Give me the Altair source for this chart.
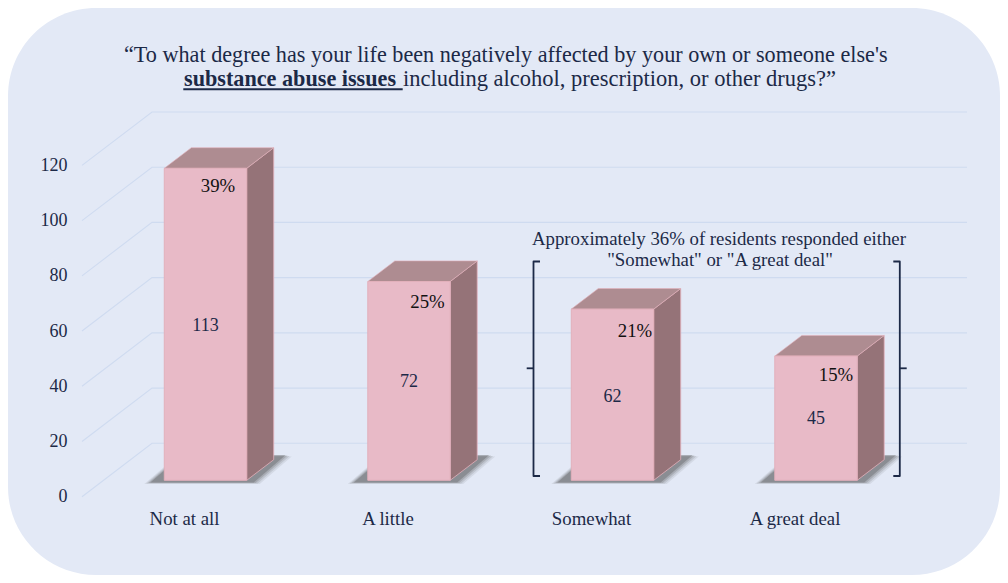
import altair as alt
import pandas as pd

categories = ["Not at all", "A little", "Somewhat", "A great deal"]
counts = [113, 72, 62, 45]
percents = ["39%", "25%", "21%", "15%"]
y_ticks = [0, 20, 40, 60, 80, 100, 120]

FONT = "Liberation Serif"
NAVY = "#1c2947"
GRID = "#cfdbf0"
PANEL = "#e3e9f6"
FRONT = "#e8bac7"
EDGE = "#e2b0bb"
TOP = "#ae8c91"
SIDE = "#957378"

# scale geometry (page pixels -> data units)
PX_X = 203.5          # px per category
PX_Y = 2.761          # px per count
X0, Y0 = 184.0, 496.7 # page position of category 0, count 0 on the front plane
DX, DY = 70.0, 53.4   # depth vector of the floor
D1, D2 = 0.307, 0.693 # bar depth range
HALF = 41.2 / PX_X    # half a bar width

x_scale = alt.Scale(domain=[(8 - X0) / PX_X, (1000 - X0) / PX_X], nice=False, zero=False)
y_scale = alt.Scale(domain=[(Y0 - 575) / PX_Y, (Y0 - 8) / PX_Y], nice=False, zero=False)


def px(i, d):
    return i + d * DX / PX_X


def py(v, d):
    return v + d * DY / PX_Y


label_expr = "[" + ",".join(f"'{c}'" for c in categories) + "][datum.value]"
x_axis = alt.Axis(
    values=[0, 1, 2, 3], labelExpr=label_expr, domain=False, ticks=False, grid=False, title=None,
    orient="bottom", offset=-57, labelPadding=0, labelFont=FONT, labelFontSize=18.8,
    labelColor=NAVY, labelBaseline="middle", labelAlign="center", labelFlush=False, labelOverlap=False)
y_axis = alt.Axis(
    values=y_ticks, domain=False, ticks=False, grid=False, title=None, orient="left", offset=-59,
    labelPadding=0, labelFont=FONT, labelFontSize=18, labelColor=NAVY, labelAlign="right",
    labelBaseline="middle", labelFlush=False, labelOverlap=False)

X = lambda f="x": alt.X(f"{f}:Q", scale=x_scale, axis=x_axis, stack=None)
Y = lambda f="y": alt.Y(f"{f}:Q", scale=y_scale, axis=y_axis, stack=None)


def polygon(points, fill, opacity=1.0, stroke=None, width=0):
    """Closed outline through the chart's scales: the line mark takes a fill."""
    df = pd.DataFrame([{"o": k, "x": a, "y": b} for k, (a, b) in enumerate(points + points[:1])])
    kw = {"stroke": stroke, "strokeWidth": width} if stroke else {"strokeWidth": 0}
    return alt.Chart(df).mark_line(fill=fill, opacity=opacity, strokeJoin="round", **kw).encode(
        x=X(), y=Y(), order="o:Q")


grid_rows = []
for v in y_ticks:
    x_left = (82 - X0) / PX_X
    grid_rows.append({"g": v, "o": 0, "x": x_left, "y": v})
    grid_rows.append({"g": v, "o": 1, "x": x_left + DX / PX_X, "y": v + DY / PX_Y})
    grid_rows.append({"g": v, "o": 2, "x": (967 - X0) / PX_X, "y": v + DY / PX_Y})
grid = alt.Chart(pd.DataFrame(grid_rows)).mark_line(color=GRID, strokeWidth=1.1).encode(
    x=X(), y=Y(), detail="g:N", order="o:Q")

# ---- shadows ----
shadow_layers = []
for grow, op in [(7, 0.10), (5, 0.14), (3, 0.20), (1, 0.30)]:
    for i in range(4):
        left = px(i, D1) - HALF - (13 + grow) / PX_X
        right = px(i, D1) + HALF + (6 + grow) / PX_X
        b = py(0, D1) - (2 + grow * 0.25) / PX_Y
        t = py(0, D1) + (25.5 - grow * 0.25) / PX_Y
        s = 32 / PX_X
        shadow_layers.append(polygon([(left, b), (right, b), (right + s, t), (left + s, t)], "#4a4a4a", op))

# ---- bars: side, top, front ----
side_layers, top_layers, front_rows = [], [], []
for i, v in enumerate(counts):
    r1, r2 = px(i, D1) + HALF, px(i, D2) + HALF
    l1, l2 = px(i, D1) - HALF, px(i, D2) - HALF
    side_layers.append(polygon(
        [(r1, py(0, D1)), (r2, py(0, D2)), (r2, py(v, D2)), (r1, py(v, D1))], SIDE, stroke=EDGE, width=0.8))
    top_layers.append(polygon(
        [(l1, py(v, D1)), (r1, py(v, D1)), (r2, py(v, D2)), (l2, py(v, D2))], TOP, stroke=EDGE, width=0.6))
    front_rows.append({"i": i, "x": l1, "x2": r1, "y": py(v, D1), "y2": py(0, D1)})

front = alt.Chart(pd.DataFrame(front_rows)).mark_rect(
    color=FRONT, stroke=EDGE, strokeWidth=1).encode(x=X(), x2="x2:Q", y=Y(), y2="y2:Q")

# ---- value and percent labels ----
count_y = [326, 382, 397, 419]
pct_dx = [12.5, 18.5, 22.5, 20]
pct_y = [186, 302, 331, 375]
count_df = pd.DataFrame({
    "x": [px(i, D1) for i in range(4)],
    "y": [(Y0 - p) / PX_Y for p in count_y],
    "t": [str(c) for c in counts]})
pct_df = pd.DataFrame({
    "x": [px(i, D1) + d / PX_X for i, d in enumerate(pct_dx)],
    "y": [(Y0 - p) / PX_Y for p in pct_y],
    "t": percents})
count_text = alt.Chart(count_df).mark_text(font=FONT, fontSize=18, color=NAVY, baseline="middle").encode(
    x=X(), y=Y(), text="t:N")
pct_text = alt.Chart(pct_df).mark_text(font=FONT, fontSize=18.8, color="#111111", baseline="middle").encode(
    x=X(), y=Y(), text="t:N")


# ---- annotations (page pixels minus the 8px margin) ----
def note(text, x, y, size, align="left", weight="normal", color=NAVY):
    return alt.Chart(pd.DataFrame({"t": [text]})).mark_text(
        font=FONT, fontSize=size, align=align, baseline="alphabetic", fontWeight=weight, color=color
    ).encode(x=alt.value(x - 8), y=alt.value(y - 8), text="t:N")


title_parts = [
    note("\u201cTo what degree has your life been negatively affected by your own or someone else's", 124, 62, 22.2),
    note("substance abuse issues", 184, 86, 22.2, weight="bold"),
    note("including alcohol, prescription, or other drugs?\u201d", 403, 86, 22.5),
    note("Approximately 36% of residents responded either", 532, 245, 18.8),
    note("\"Somewhat\" or \"A great deal\"", 720, 266, 18.8, align="center"),
]
underline = alt.Chart(pd.DataFrame({"a": [0]})).mark_rule(color=NAVY, strokeWidth=2).encode(
    x=alt.value(183.3 - 8), x2=alt.value(402.7 - 8), y=alt.value(89.3 - 8))

# ---- brackets ----
page_x = lambda p: (p - X0) / PX_X
page_y = lambda p: (Y0 - p) / PX_Y
bracket_paths = [
    [(540, 261.5), (533.5, 261.5), (533.5, 476), (540, 476)],
    [(526.7, 368.3), (533.5, 368.3)],
    [(893.3, 261.5), (899.8, 261.5), (899.8, 476), (893.3, 476)],
    [(899.8, 368.3), (906.7, 368.3)],
]
bracket_rows = []
for g, path in enumerate(bracket_paths):
    for o, (a, b) in enumerate(path):
        bracket_rows.append({"g": g, "o": o, "x": page_x(a), "y": page_y(b)})
brackets = alt.Chart(pd.DataFrame(bracket_rows)).mark_line(
    color=NAVY, strokeWidth=1.8, strokeJoin="round").encode(x=X(), y=Y(), detail="g:N", order="o:Q")

chart = alt.layer(
    grid, *shadow_layers, *side_layers, *top_layers, front, count_text, pct_text,
    *title_parts, underline, brackets
).resolve_scale(x="shared", y="shared").properties(
    width=992, height=567, padding=0, background="white",
    autosize=alt.AutoSizeParams(type="none"),
).configure_view(fill=PANEL, stroke=None, cornerRadius=88)

chart.save("out.html", embed_options={"renderer": "svg", "actions": False})
